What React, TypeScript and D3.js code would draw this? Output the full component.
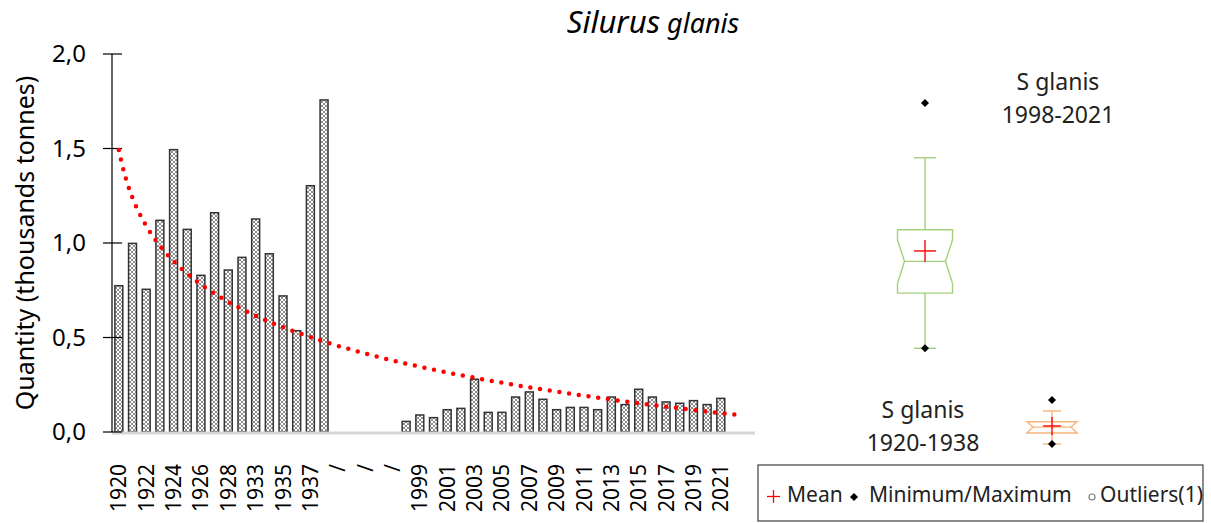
import React from "react";
import * as d3 from "d3";

// ---------- DATA ----------
const categories: string[] = [
  "1920", "1921", "1922", "1923", "1924", "1925", "1926", "1927", "1928",
  "1932", "1933", "1934", "1935", "1936", "1937", "1938",
  "/", "/", "/", "/", "/",
  "1998", "1999", "2000", "2001", "2002", "2003", "2004", "2005", "2006",
  "2007", "2008", "2009", "2010", "2011", "2012", "2013", "2014", "2015",
  "2016", "2017", "2018", "2019", "2020", "2021",
  "", "",
];

// the "/" break categories hold zeros (no bar drawn), trailing slots are empty
const quantities: (number | null)[] = [
  0.774, 0.998, 0.755, 1.12, 1.494, 1.072, 0.829, 1.16, 0.857,
  0.924, 1.127, 0.943, 0.72, 0.536, 1.303, 1.757,
  0, 0, 0, 0, 0,
  0.056, 0.09, 0.076, 0.118, 0.125, 0.279, 0.104, 0.104, 0.185,
  0.212, 0.173, 0.118, 0.13, 0.13, 0.118, 0.185, 0.145, 0.226,
  0.185, 0.159, 0.152, 0.166, 0.145, 0.178,
  null, null,
];

const yTicks: number[] = [0, 0.5, 1.0, 1.5, 2.0];

// box plots (values on the chart's own y axis)
const boxTitles: string[][] = [["S glanis", "1998-2021"], ["S glanis", "1920-1938"]];
const boxMin: number[] = [0.443, -0.063];
const boxMax: number[] = [1.741, 0.169];
const boxWhiskerLow: number[] = [0.443, -0.063];
const boxWhiskerHigh: number[] = [1.451, 0.111];
const boxQ1: number[] = [0.735, -0.005];
const boxMedian: number[] = [0.903, 0.026];
const boxQ3: number[] = [1.07, 0.0545];
const boxNotchLow: number[] = [0.787, -0.005];
const boxNotchHigh: number[] = [1.016, 0.0545];
const boxMean: number[] = [0.958, 0.032];

const legendItems: string[] = ["Mean", "Minimum/Maximum", "Outliers(1)"];

// ---------- LAYOUT ----------
const W = 1211;
const H = 523;
const FONT = "'Noto Sans', 'Open Sans', sans-serif";
const plotLeft = 112;
const plotRight = 755;
const plotTop = 54;
const plotBottom = 432;

const boxCenters = [925, 1052];
const boxHalfW = [27.5, 25];
const capHalfW = [11, 9];
const notchDepth = [7, 6];
const boxColors = ["#A3D17A", "#F5B47A"];
const boxTitlePos = [
  { x: 1058, y: 90 },
  { x: 923, y: 418 },
];

export default function App() {
  const x = d3
    .scaleBand<number>()
    .domain(categories.map((_, i) => i))
    .range([plotLeft, plotRight])
    .paddingInner(0.42)
    .paddingOuter(0.21);
  const xLin = d3.scaleLinear().domain([0, categories.length]).range([plotLeft, plotRight]);
  const y = d3.scaleLinear().domain([0, 2]).range([plotBottom, plotTop]);

  // logarithmic trendline fitted on the data (x = category position 1..n)
  const pts = quantities
    .map((v, i) => ({ t: i + 1, v }))
    .filter((d) => d.v !== null) as { t: number; v: number }[];
  const lx = pts.map((d) => Math.log(d.t));
  const mx = d3.mean(lx) as number;
  const my = d3.mean(pts, (d) => d.v) as number;
  let sxy = 0;
  let sxx = 0;
  pts.forEach((d, i) => {
    sxy += (lx[i] - mx) * (d.v - my);
    sxx += (lx[i] - mx) * (lx[i] - mx);
  });
  const b = sxy / sxx;
  const a = my - b * mx;
  const tEnd = pts[pts.length - 1].t + 1.5;
  const trendT = d3.range(1, tEnd + 0.001, 0.2);
  const trendLine = d3
    .line<number>()
    .x((t) => xLin(t - 0.5))
    .y((t) => y(a + b * Math.log(t)))
    .curve(d3.curveLinear)(trendT);

  const bw = x.bandwidth();

  return (
    <svg
      width={W}
      height={H}
      style={{ position: "absolute", left: 0, top: 0, display: "block", background: "#fff" }}
      fontFamily={FONT}
    >
      <defs>
        <pattern id="hatch" width="4" height="4" patternUnits="userSpaceOnUse">
          <rect width="4" height="4" fill="#ffffff" />
          <path d="M0,0 L4,4 M4,0 L0,4" stroke="#707070" strokeWidth="0.8" />
        </pattern>
      </defs>

      {/* title */}
      <text x={653} y={33} textAnchor="middle" fontStyle="italic" fill="#000">
        <tspan fontSize={31}>Silurus</tspan>
        <tspan fontSize={27}> glanis</tspan>
      </text>

      {/* y axis label */}
      <text
        transform={`translate(25,${(plotTop + plotBottom) / 2}) rotate(-90)`}
        textAnchor="middle"
        dy="0.35em"
        fontSize={25}
        fill="#000"
      >
        Quantity (thousands tonnes)
      </text>

      {/* bars */}
      {quantities.map((v, i) =>
        v === null || v === 0 ? null : (
          <rect
            key={`b${i}`}
            x={x(i) as number}
            y={y(v)}
            width={bw}
            height={y(0) - y(v)}
            fill="url(#hatch)"
            stroke="#333"
            strokeWidth={1.5}
          />
        )
      )}

      {/* x axis baseline */}
      <line x1={plotLeft} x2={plotRight} y1={y(0) + 1} y2={y(0) + 1} stroke="#d6d6d6" strokeWidth={3} />

      {/* y axis */}
      <line x1={plotLeft} x2={plotLeft} y1={y(0)} y2={y(2)} stroke="#000" strokeWidth={1.2} />
      {yTicks.map((t) => (
        <g key={`yt${t}`}>
          <line x1={plotLeft - 9} x2={plotLeft + 10} y1={y(t)} y2={y(t)} stroke="#000" strokeWidth={1.2} />
          <text x={86} y={y(t)} dy="0.35em" textAnchor="end" fontSize={24} fill="#000">
            {d3.format(".1f")(t).replace(".", ",")}
          </text>
        </g>
      ))}

      {/* x tick labels (every other category) */}
      {categories.map((c, i) =>
        i % 2 === 0 && c !== "" ? (
          <text
            key={`xl${i}`}
            transform={`translate(${(x(i) as number) + bw / 2},464) rotate(-90)`}
            textAnchor="end"
            dy="0.36em"
            fontSize={21}
            fill="#000"
          >
            {c}
          </text>
        ) : null
      )}

      {/* trendline */}
      <path
        d={trendLine || ""}
        fill="none"
        stroke="#ff0000"
        strokeWidth={4.5}
        strokeLinecap="round"
        strokeDasharray="0 9.8"
      />

      {/* box plots */}
      {boxCenters.map((cx, k) => {
        const hw = boxHalfW[k];
        const nd = notchDepth[k];
        const col = boxColors[k];
        const yq1 = y(boxQ1[k]);
        const yq3 = y(boxQ3[k]);
        const ymed = y(boxMedian[k]);
        const ynl = y(boxNotchLow[k]);
        const ynh = y(boxNotchHigh[k]);
        const boxPath = [
          `M${cx - hw},${yq3}`,
          `L${cx + hw},${yq3}`,
          `L${cx + hw},${ynh}`,
          `L${cx + hw - nd},${ymed}`,
          `L${cx + hw},${ynl}`,
          `L${cx + hw},${yq1}`,
          `L${cx - hw},${yq1}`,
          `L${cx - hw},${ynl}`,
          `L${cx - hw + nd},${ymed}`,
          `L${cx - hw},${ynh}`,
          "Z",
        ].join(" ");
        const cw = capHalfW[k];
        const ms = k === 0 ? 11 : 9;
        const ym = y(boxMean[k]);
        const d = 4;
        return (
          <g key={`box${k}`}>
            <line x1={cx} x2={cx} y1={y(boxWhiskerHigh[k])} y2={yq3} stroke={col} strokeWidth={1.4} />
            <line x1={cx} x2={cx} y1={yq1} y2={y(boxWhiskerLow[k])} stroke={col} strokeWidth={1.4} />
            <line x1={cx - cw} x2={cx + cw} y1={y(boxWhiskerHigh[k])} y2={y(boxWhiskerHigh[k])} stroke={col} strokeWidth={1.4} />
            <line x1={cx - cw} x2={cx + cw} y1={y(boxWhiskerLow[k])} y2={y(boxWhiskerLow[k])} stroke={col} strokeWidth={1.4} />
            <path d={boxPath} fill="#fff" stroke={col} strokeWidth={1.4} />
            <line x1={cx - hw + nd} x2={cx + hw - nd} y1={ymed} y2={ymed} stroke={col} strokeWidth={1.4} />
            <line x1={cx - ms} x2={cx + ms} y1={ym} y2={ym} stroke="#ff0000" strokeWidth={1.4} />
            <line x1={cx} x2={cx} y1={ym - ms} y2={ym + ms} stroke="#ff0000" strokeWidth={1.4} />
            {[boxMin[k], boxMax[k]].map((v, j) => (
              <path
                key={`mm${j}`}
                d={`M${cx},${y(v) - d} L${cx + d},${y(v)} L${cx},${y(v) + d} L${cx - d},${y(v)} Z`}
                fill="#000"
              />
            ))}
            <text textAnchor="middle" fontSize={23} fill="#222">
              <tspan x={boxTitlePos[k].x} y={boxTitlePos[k].y}>{boxTitles[k][0]}</tspan>
              <tspan x={boxTitlePos[k].x} y={boxTitlePos[k].y + 33}>{boxTitles[k][1]}</tspan>
            </text>
          </g>
        );
      })}

      {/* legend */}
      <rect x={758} y={465} width={445} height={56} fill="#fff" stroke="#404040" strokeWidth={1.2} />
      <line x1={767} x2={780} y1={496.5} y2={496.5} stroke="#ff0000" strokeWidth={1.3} />
      <line x1={773.5} x2={773.5} y1={490} y2={503} stroke="#ff0000" strokeWidth={1.3} />
      <text x={787} y={502} fontSize={21} fill="#222">{legendItems[0]}</text>
      <path d="M854,493 L858,497 L854,501 L850,497 Z" fill="#000" />
      <text x={869} y={502} fontSize={21} fill="#222">{legendItems[1]}</text>
      <circle cx={1092} cy={497} r={3} fill="none" stroke="#808080" strokeWidth={1.2} />
      <text x={1100} y={502} fontSize={21} fill="#222">{legendItems[2]}</text>
    </svg>
  );
}
